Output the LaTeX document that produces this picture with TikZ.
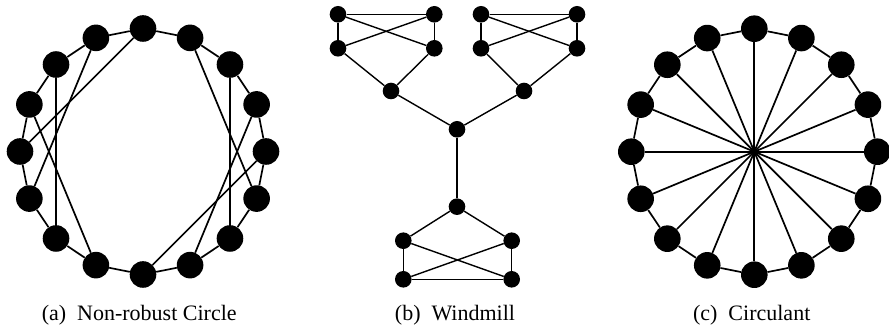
\documentclass[tikz,border=0pt]{standalone}
\usepackage{fontspec}
\setmainfont{Liberation Serif}
\begin{document}
\begin{tikzpicture}[x=1pt,y=1pt,
  vtx/.style={circle,fill=black,draw=none,inner sep=0pt,minimum size=26.6pt},
  wv/.style={circle,fill=black,draw=none,inner sep=0pt,minimum size=16.6pt},
  thick edge/.style={line width=1.7pt},
  thin edge/.style={line width=1.4pt},
  captext/.style={anchor=base,inner sep=0pt,font=\fontsize{22}{26}\selectfont}]
\useasboundingbox (0,0) rectangle (889,329);
% (a) Non-robust circle
\begin{scope}[shift={(143,177.5)}]
  \foreach \i in {0,...,15} {
    \node[vtx] (a\i) at ({90-22.5*\i}:123) {};
  }
  \foreach \i in {0,...,15} {
    \pgfmathtruncatemacro{\j}{mod(\i+1,16)}
    \draw[thick edge] (a\i) -- (a\j);
  }
  \foreach \i/\j in {0/12,15/11,14/10,13/9,1/5,2/6,3/7,4/8} {
    \draw[thick edge] (a\i) -- (a\j);
  }
\end{scope}
% (b) Windmill
\node[wv] (w1) at (338,314.7) {};
\node[wv] (w2) at (434.3,314.7) {};
\node[wv] (w3) at (338,280.7) {};
\node[wv] (w4) at (434.3,280.7) {};
\node[wv] (w5) at (481,314.7) {};
\node[wv] (w6) at (577,314.7) {};
\node[wv] (w7) at (481,280.7) {};
\node[wv] (w8) at (577,280.7) {};
\node[wv] (h1) at (391,238) {};
\node[wv] (h2) at (524,238) {};
\node[wv] (wc) at (457,199.7) {};
\node[wv] (h3) at (457,122.3) {};
\node[wv] (b1) at (403.3,88.3) {};
\node[wv] (b2) at (511.7,88.3) {};
\node[wv] (b3) at (403.3,49.7) {};
\node[wv] (b4) at (511.7,49.7) {};
\foreach \p/\q in {w1/w2,w1/w3,w2/w4,w1/w4,w3/w2,h1/w3,h1/w4,
                   w5/w6,w5/w7,w6/w8,w5/w8,w7/w6,h2/w7,h2/w8,
                   h1/wc,h2/wc,wc/h3,
                   h3/b1,h3/b2,b1/b3,b2/b4,b3/b4,b1/b4,b3/b2} {
  \draw[thin edge] (\p) -- (\q);
}
% (c) Circulant
\begin{scope}[shift={(754.3,177.3)}]
  \foreach \i in {0,...,15} {
    \node[vtx] (c\i) at ({90-22.5*\i}:123) {};
  }
  \foreach \i in {0,...,15} {
    \pgfmathtruncatemacro{\j}{mod(\i+1,16)}
    \draw[thick edge] (c\i) -- (c\j);
  }
  \foreach \i in {0,...,7} {
    \pgfmathtruncatemacro{\j}{\i+8}
    \draw[thick edge] (c\i) -- (c\j);
  }
\end{scope}
% captions
\node[captext] (capa) at (139.2,8) {(a)\ \ Non-robust Circle};
\node[captext] (capb) at (455,8) {(b)\ \ Windmill};
\node[captext] (capc) at (751.7,8) {(c)\ \ Circulant};
\end{tikzpicture}
\end{document}
